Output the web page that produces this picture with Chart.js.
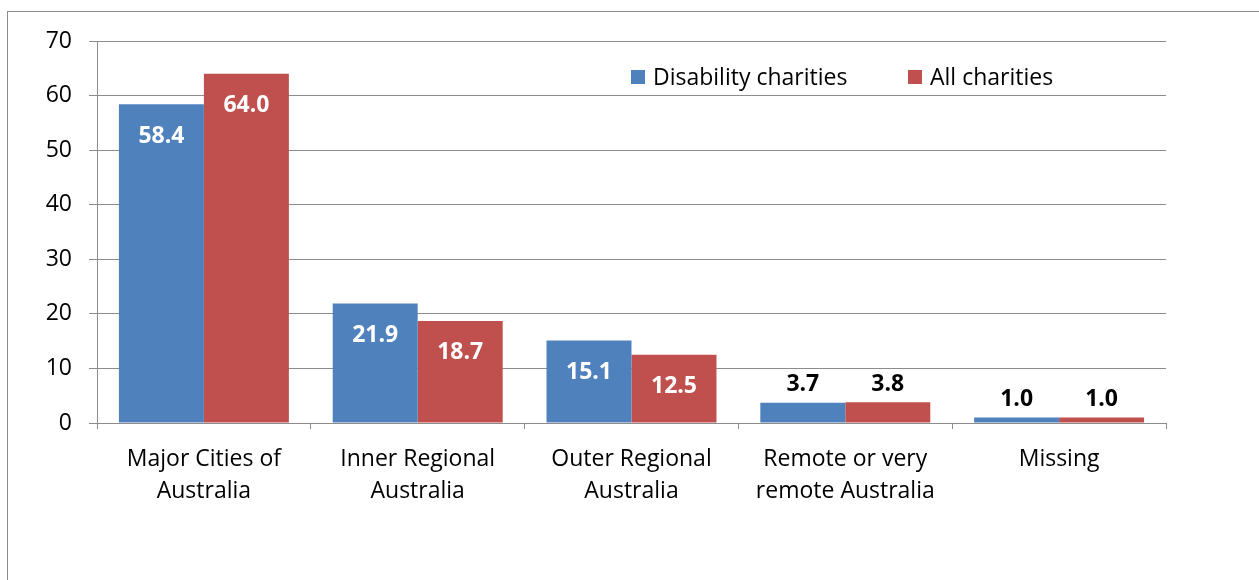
<!DOCTYPE html>
<html>
<head>
<meta charset="utf-8">
<script src="https://cdn.jsdelivr.net/npm/chart.js@4"></script>
<style>
    html, body { margin: 0; padding: 0; background: #fff; overflow: hidden; }
    #wrap { position: relative; width: 1259px; height: 580px; }
    #frame { position: absolute; left: 7px; top: 11px; width: 1300px; height: 600px;
             border-left: 1px solid #8c8c8c; border-top: 1px solid #8c8c8c; }
    canvas { position: absolute; left: 0; top: 0; }
</style>
</head>
<body>
<div id="wrap">
    <div id="frame"></div>
    <canvas id="barChart" width="1259" height="580"></canvas>
</div>
<script>
// Chart data
const categories = [
    ['Major Cities of', 'Australia'],
    ['Inner Regional', 'Australia'],
    ['Outer Regional', 'Australia'],
    ['Remote or very', 'remote Australia'],
    'Missing'
];
const disabilityValues = [58.4, 21.9, 15.1, 3.7, 1.0];
const allValues = [64.0, 18.7, 12.5, 3.8, 1.0];
const seriesNames = ['Disability charities', 'All charities'];
const yTicks = [0, 10, 20, 30, 40, 50, 60, 70];

const FONT = '"Open Sans", Lato, sans-serif';

// Value labels: white inside tall bars, black above short ones
const valueLabels = {
    id: 'valueLabels',
    afterDatasetsDraw(chart) {
        const ctx = chart.ctx;
        ctx.save();
        ctx.font = 'bold 23px ' + FONT;
        ctx.textAlign = 'center';
        ctx.textBaseline = 'middle';
        chart.data.datasets.forEach((ds, i) => {
            chart.getDatasetMeta(i).data.forEach((bar, j) => {
                const text = ds.data[j].toFixed(1);
                const h = bar.base - bar.y;
                if (h > 40) {
                    ctx.fillStyle = '#ffffff';
                    ctx.fillText(text, bar.x, bar.y + 32);
                } else {
                    ctx.fillStyle = '#000000';
                    ctx.fillText(text, bar.x, bar.y - 18);
                }
            });
        });
        ctx.restore();
    }
};

// Legend drawn inside the plot area
const innerLegend = {
    id: 'innerLegend',
    afterDraw(chart) {
        const ctx = chart.ctx;
        const xs = [631, 908];
        ctx.save();
        ctx.font = '23px ' + FONT;
        ctx.textBaseline = 'middle';
        ctx.textAlign = 'left';
        chart.data.datasets.forEach((ds, i) => {
            ctx.fillStyle = ds.backgroundColor;
            ctx.fillRect(xs[i], 70, 14, 14);
            ctx.fillStyle = '#000000';
            ctx.fillText(ds.label, xs[i] + 22, 78);
        });
        ctx.restore();
    }
};

const barCtx = document.getElementById('barChart').getContext('2d');
new Chart(barCtx, {
    type: 'bar',
    data: {
        labels: categories,
        datasets: [
            { label: seriesNames[0], data: disabilityValues, backgroundColor: '#4f81bd' },
            { label: seriesNames[1], data: allValues, backgroundColor: '#c0504d' }
        ]
    },
    options: {
        responsive: false,
        animation: false,
        layout: { padding: { left: 0, top: 41, right: 93, bottom: 0 } },
        plugins: {
            legend: { display: false },
            tooltip: { enabled: false }
        },
        datasets: { bar: { categoryPercentage: 0.795, barPercentage: 1.0 } },
        scales: {
            x: {
                grid: { offset: true, drawOnChartArea: false, color: '#8c8c8c', tickLength: 6 },
                border: { color: '#8c8c8c', width: 1 },
                ticks: { color: '#000', font: { family: FONT, size: 23, lineHeight: 1.39 }, padding: 14, maxRotation: 0 },
                afterFit(scale) { scale.height = 157; }
            },
            y: {
                min: 0,
                max: 70,
                afterBuildTicks(scale) { scale.ticks = yTicks.map(v => ({ value: v })); },
                grid: { color: '#8c8c8c', tickLength: 8 },
                border: { color: '#8c8c8c', width: 1 },
                ticks: { color: '#000', font: { family: FONT, size: 23 }, padding: 17 },
                afterFit(scale) { scale.width = 97; }
            }
        }
    },
    plugins: [valueLabels, innerLegend]
});
</script>
</body>
</html>
